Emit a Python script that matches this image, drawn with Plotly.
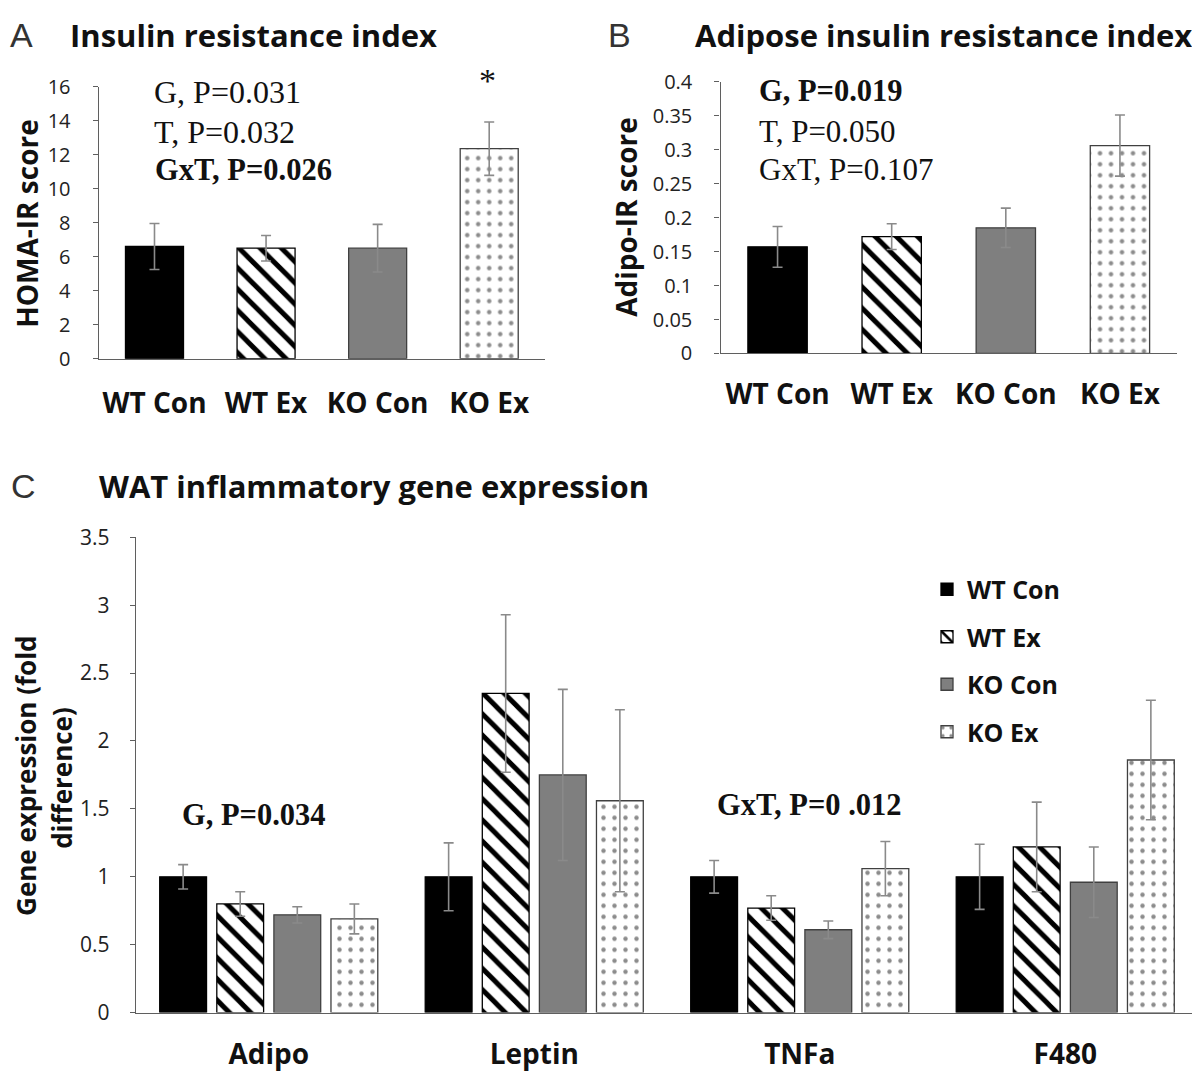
import plotly.graph_objects as go

# ---------------- data ----------------
groups = ["WT Con", "WT Ex", "KO Con", "KO Ex"]

homa_ir = [6.6, 6.5, 6.5, 12.35]
homa_ir_err = [1.35, 0.75, 1.4, 1.57]

adipo_ir = [0.157, 0.172, 0.185, 0.306]
adipo_ir_err = [0.030, 0.019, 0.029, 0.045]

genes = ["Adipo", "Leptin", "TNFa", "F480"]
wt_con = [1.0, 1.0, 1.0, 1.0]
wt_con_err = [0.09, 0.25, 0.12, 0.24]
wt_ex = [0.80, 2.35, 0.77, 1.22]
wt_ex_err = [0.09, 0.58, 0.09, 0.33]
ko_con = [0.72, 1.75, 0.61, 0.96]
ko_con_err = [0.06, 0.63, 0.065, 0.26]
ko_ex = [0.69, 1.56, 1.06, 1.86]
ko_ex_err = [0.11, 0.67, 0.20, 0.44]

a_ticks = [0, 2, 4, 6, 8, 10, 12, 14, 16]
b_ticks = [0, 0.05, 0.1, 0.15, 0.2, 0.25, 0.3, 0.35, 0.4]
b_ticktext = ["0", "0.05", "0.1", "0.15", "0.2", "0.25", "0.3", "0.35", "0.4"]
c_ticks = [0, 0.5, 1, 1.5, 2, 2.5, 3, 3.5]
c_ticktext = ["0", "0.5", "1", "1.5", "2", "2.5", "3", "3.5"]

# ---------------- geometry (page pixels; the page body has an 8px margin) ----------------
OFF = 8
W, H = 1200 - OFF, 1086 - OFF
def px(x):
    return (x - OFF) / W
def py(y):
    return 1 - (y - OFF) / H

BOLD = "'Open Sans', sans-serif"
REG = "'Open Sans', sans-serif"
SERIF = "'Liberation Serif', 'Times New Roman', serif"
AX = "#5f5f5f"
ERR = "#8a8a8a"

fills = ["#000000", "#ffffff", "#7f7f7f", "#ffffff"]
pshape = ["", "\\", "", "."]
pfg = ["#000000", "#000000", "#7f7f7f", "#8c8c8c"]
pbg = ["#000000", "#ffffff", "#7f7f7f", "#ffffff"]
psize = [8, 15, 8, 11]
psol = [0.3, 0.33, 0.3, 0.13]
outline = ["#000000", "#000000", "#404040", "#404040"]

def marker(i):
    return dict(color=fills[i], line=dict(color=outline[i], width=1.3),
                pattern=dict(shape=pshape[i], fgcolor=pfg[i], bgcolor=pbg[i],
                             size=psize[i], solidity=psol[i], fillmode="replace"))

fig = go.Figure()

def single_panel(vals, errs, xa, ya):
    for i, g in enumerate(groups):
        fig.add_trace(go.Bar(
            x=[g], y=[vals[i]], xaxis=xa, yaxis=ya, width=0.52, offset=-0.26,
            showlegend=False, marker=marker(i),
            error_y=dict(type="data", array=[errs[i]], color=ERR, thickness=1.6, width=5),
            hoverinfo="skip",
        ))

single_panel(homa_ir, homa_ir_err, "x", "y")
single_panel(adipo_ir, adipo_ir_err, "x2", "y2")

c_series = [wt_con, wt_ex, ko_con, ko_ex]
c_errs = [wt_con_err, wt_ex_err, ko_con_err, ko_ex_err]
for i, name in enumerate(groups):
    fig.add_trace(go.Bar(
        x=genes, y=c_series[i], name=name, xaxis="x3", yaxis="y3",
        legendgroup=name, marker=marker(i),
        error_y=dict(type="data", array=c_errs[i], color=ERR, thickness=1.6, width=5),
        hoverinfo="skip",
    ))

yax_common = dict(showline=True, linecolor=AX, linewidth=1.4, ticks="outside",
                  ticklen=5, tickcolor=AX, showgrid=False, zeroline=False,
                  tickfont=dict(family=REG, size=20, color="#222"),
                  ticklabelstandoff=18)
xax_common = dict(showline=True, linecolor=AX, linewidth=1.4, ticks="",
                  showgrid=False, zeroline=False, type="category",
                  categoryorder="array")

fig.update_layout(
    width=W, height=H, autosize=False,
    margin=dict(l=0, r=0, t=0, b=0),
    paper_bgcolor="white", plot_bgcolor="white",
    barmode="group", bargap=0.14, bargroupgap=0.18,
    xaxis=dict(domain=[px(98.7), px(545)], range=[-0.5, 3.5], anchor="y",
               categoryarray=groups,
               tickfont=dict(family=BOLD, size=28, color="#111", weight="bold"),
               ticklabelstandoff=19, **xax_common),
    yaxis=dict(domain=[py(352.7), py(73.3)], range=[0, 16], tickvals=a_ticks,
               anchor="x", **yax_common),
    xaxis2=dict(domain=[px(720.5), px(1177)], range=[-0.5, 3.5], anchor="y2",
                categoryarray=groups,
                tickfont=dict(family=BOLD, size=28, color="#111", weight="bold"),
                ticklabelstandoff=16, **xax_common),
    yaxis2=dict(domain=[py(347.3), py(68.3)], range=[0, 0.4], tickvals=b_ticks,
                ticktext=b_ticktext, anchor="x2", **yax_common),
    xaxis3=dict(domain=[px(136), px(1198)], range=[-0.5, 3.5], anchor="y3",
                categoryarray=genes,
                tickfont=dict(family=BOLD, size=28, color="#111", weight="bold"),
                ticklabelstandoff=17, **xax_common),
    yaxis3=dict(domain=[py(1024), py(536)], range=[0, 3.5], tickvals=c_ticks,
                ticktext=c_ticktext, anchor="x3",
                **{**yax_common, "tickfont": dict(family=REG, size=21, color="#222"),
                   "ticklabelstandoff": 16}),
    legend=dict(x=px(927), y=py(566), xanchor="left", yanchor="top",
                font=dict(family=BOLD, size=25, color="#111", weight="bold"),
                tracegroupgap=12, bgcolor="rgba(0,0,0,0)"),
    showlegend=True,
)

ann = []
def text(x, y, s, size, family=BOLD, bold=False, anchor="left", color="#111", angle=0):
    ann.append(dict(x=px(x), y=py(y), xref="paper", yref="paper", text=s,
                    showarrow=False, xanchor=anchor, yanchor="middle",
                    textangle=angle,
                    font=dict(family=family, size=size, color=color,
                              weight="bold" if bold else "normal")))

LETTER = "'Liberation Sans', Arial, sans-serif"
# panel letters & titles
text(8, 20, "A", 34, family=LETTER, color="#333")
text(68, 20, "Insulin resistance index", 31, bold=True)
text(606, 20, "B", 34, family=LETTER, color="#333")
text(693, 20, "Adipose insulin resistance index", 31, bold=True)
text(9, 483, "C", 34, family=LETTER, color="#333")
text(97, 483, "WAT inflammatory gene expression", 31, bold=True)

# axis titles
text(27, 214, "HOMA-IR score", 28, bold=True, anchor="center", angle=-90)
text(626, 207, "Adipo-IR score", 28, bold=True, anchor="center", angle=-90)
text(26, 781, "Gene expression (fold", 26, bold=True, anchor="center", angle=-90)
text(62, 783, "difference)", 26, bold=True, anchor="center", angle=-90)

# statistics
text(152, 79, "G, P=0.031", 32, family=SERIF)
text(152, 120, "T, P=0.032", 32, family=SERIF)
text(153, 159, "GxT, P=0.026", 30.5, family=SERIF, bold=True)
text(488, 67, "*", 34, family=SERIF, anchor="center")
text(757, 78, "G, P=0.019", 30.5, family=SERIF, bold=True)
text(757, 119, "T, P=0.050", 31, family=SERIF)
text(757, 158, "GxT, P=0.107", 31, family=SERIF)
text(180, 821, "G, P=0.034", 30.5, family=SERIF, bold=True)
text(715, 811, "GxT, P=0 .012", 30.5, family=SERIF, bold=True)

fig.update_layout(annotations=ann)
fig.write_html("out.html")
